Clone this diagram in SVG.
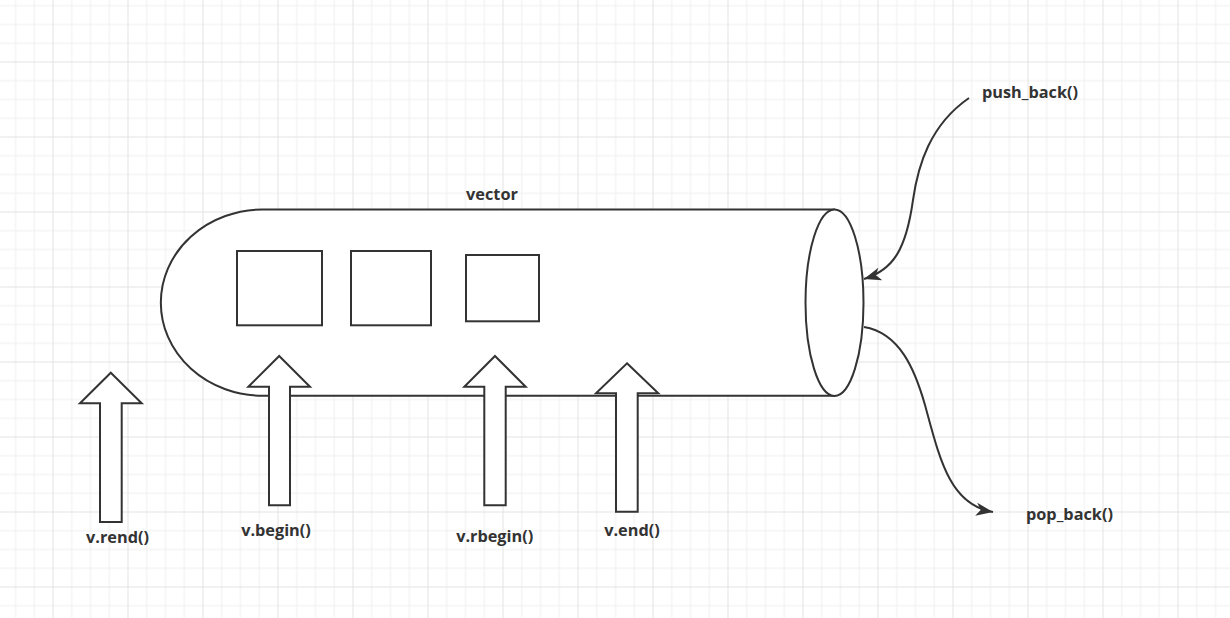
<svg xmlns="http://www.w3.org/2000/svg" width="1230" height="618" viewBox="0 0 1230 618">
<style>
.s{fill:#fff;stroke:#333;stroke-width:2;stroke-linejoin:miter}
.c{fill:none;stroke:#333;stroke-width:2}
.t{font-family:"Open Sans","Noto Sans","Liberation Sans",sans-serif;font-weight:bold;font-size:16.3px;fill:#333;text-anchor:middle}
</style>
<defs>
<pattern id="grid" patternUnits="userSpaceOnUse" x="52.5" y="61.5" width="75" height="75">
<rect x="0" y="0" width="75" height="75" fill="#fff"/>
<rect x="18.75" y="0" width="1" height="75" fill="#f0f0f0"/>
<rect x="37.5" y="0" width="1" height="75" fill="#f0f0f0"/>
<rect x="56.25" y="0" width="1" height="75" fill="#f0f0f0"/>
<rect x="0" y="18.75" width="75" height="1" fill="#f0f0f0"/>
<rect x="0" y="37.5" width="75" height="1" fill="#f0f0f0"/>
<rect x="0" y="56.25" width="75" height="1" fill="#f0f0f0"/>
<rect x="0" y="0" width="1" height="75" fill="#e2e2e2"/>
<rect x="0" y="0" width="75" height="1" fill="#e2e2e2"/>
</pattern>
<marker id="arr" markerUnits="userSpaceOnUse" viewBox="0 0 18 14" markerWidth="18" markerHeight="14" refX="17" refY="7" orient="auto">
<path d="M0,0.5 L17,7 L0,13.5 L4.5,7 z" fill="#333"/>
</marker>
</defs>
<rect width="1230" height="618" fill="url(#grid)"/>
<g id="vector">
<path class="s" d="M834,209.5 H263 A102,93 0 0 0 263,395.8 H834 Z"/>
<ellipse class="s" cx="834.5" cy="302.7" rx="29" ry="93.2"/>
<text class="t" x="492" y="200">vector</text>
</g>
<g id="elem1"><rect class="s" x="237" y="251" width="85" height="74.3"/></g>
<g id="elem2"><rect class="s" x="351" y="251" width="80" height="74.3"/></g>
<g id="elem3"><rect class="s" x="466" y="255" width="73" height="66.3"/></g>
<g id="connectors">
<path class="c" d="M969,98 C930,125 918,165 913,200 C906,250 893,270 864,279" marker-end="url(#arr)"/>
<path class="c" d="M864,327 C900,333 915,370 925,405 C940,460 950,505 993,512" marker-end="url(#arr)"/>
</g>
<g id="rend">
<polygon class="s" points="110.8,372.7 141.7,403.3 121.7,403.3 121.7,522 100,522 100,403.3 80,403.3"/>
<text class="t" x="117.5" y="543">v.rend()</text>
</g>
<g id="begin">
<polygon class="s" points="279.2,356 310,386.7 290,386.7 290,505.3 269,505.3 269,386.7 248.3,386.7"/>
<text class="t" x="276" y="536">v.begin()</text>
</g>
<g id="rbegin">
<polygon class="s" points="495,356 525.7,386.7 505.7,386.7 505.7,505.3 484.3,505.3 484.3,386.7 464.3,386.7"/>
<text class="t" x="494.7" y="542">v.rbegin()</text>
</g>
<g id="end">
<polygon class="s" points="627,363.3 658.3,393.3 637.7,393.3 637.7,511.7 616,511.7 616,393.3 596,393.3"/>
<text class="t" x="632" y="536">v.end()</text>
</g>
<g id="push"><text class="t" x="1030" y="98">push_back()</text></g>
<g id="pop"><text class="t" x="1069.5" y="520">pop_back()</text></g>
</svg>
